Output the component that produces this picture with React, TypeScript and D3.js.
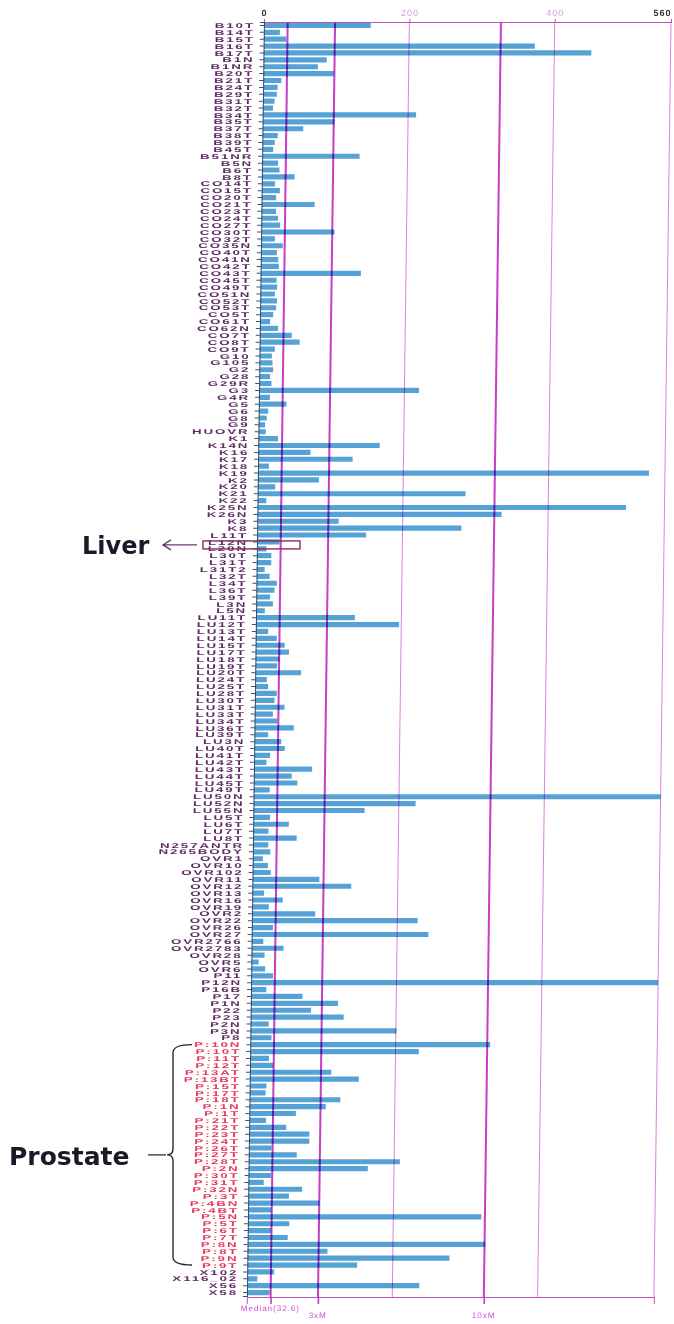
import { useEffect, useRef } from 'react';
import * as d3 from 'd3';

const labels = [
  'B10T', 'B14T', 'B15T', 'B16T', 'B17T', 'B1N', 'B1NR', 'B20T', 'B21T', 'B24T', 'B29T', 'B31T', 'B32T', 'B34T',
  'B35T', 'B37T', 'B38T', 'B39T', 'B45T', 'B51NR', 'B5N', 'B6T', 'B8T', 'CO14T', 'CO15T', 'CO20T', 'CO21T', 'CO23T',
  'CO24T', 'CO27T', 'CO30T', 'CO32T', 'CO35N', 'CO40T', 'CO41N', 'CO42T', 'CO43T', 'CO45T', 'CO49T', 'CO51N', 'CO52T',
  'CO53T', 'CO5T',
  'CO61T', 'CO62N', 'CO7T', 'CO8T', 'CO9T', 'G10', 'G105', 'G2', 'G28', 'G29R', 'G3', 'G4R', 'G5', 'G6', 'G8', 'G9',
  'HUOVR', 'K1', 'K14N', 'K16', 'K17', 'K18', 'K19', 'K2', 'K20', 'K21', 'K22', 'K25N', 'K26N', 'K3', 'K8', 'L11T',
  'L12N', 'L20N', 'L30T',
  'L31T', 'L31T2', 'L32T', 'L34T', 'L36T', 'L39T', 'L3N', 'L5N',
  'LU11T', 'LU12T', 'LU13T', 'LU14T', 'LU15T', 'LU17T', 'LU18T', 'LU19T', 'LU20T', 'LU24T', 'LU25T', 'LU28T', 'LU30T',
  'LU31T', 'LU33T', 'LU34T', 'LU36T', 'LU39T', 'LU3N', 'LU40T', 'LU41T', 'LU42T', 'LU43T', 'LU44T', 'LU45T', 'LU49T',
  'LU50N', 'LU52N', 'LU55N', 'LU5T', 'LU6T', 'LU7T', 'LU8T',
  'N257ANTR', 'N265BODY',
  'OVR1', 'OVR10', 'OVR102', 'OVR11', 'OVR12', 'OVR13', 'OVR16', 'OVR19', 'OVR2', 'OVR22', 'OVR26', 'OVR27',
  'OVR2766', 'OVR2783', 'OVR28', 'OVR5', 'OVR6',
  'P11', 'P12N', 'P16B', 'P17', 'P1N', 'P22', 'P23', 'P2N', 'P3N', 'P8',
  'P:10N', 'P:10T', 'P:11T', 'P:12T', 'P:13AT', 'P:13BT', 'P:15T', 'P:17T', 'P:18T', 'P:1N', 'P:1T', 'P:21T',
  'P:22T', 'P:23T', 'P:24T', 'P:26T', 'P:27T', 'P:28T', 'P:2N', 'P:30T', 'P:31T', 'P:32N', 'P:3T', 'P:4BN',
  'P:4BT', 'P:5N', 'P:5T', 'P:6T', 'P:7T', 'P:8N', 'P:8T', 'P:9N', 'P:9T',
  'X102', 'X116_02', 'X56', 'X58',
];

const values = [
  147, 22, 31, 373, 451, 87, 75, 97, 25, 20, 19, 16, 14, 211,
  99, 56, 21, 17, 15, 134, 22, 24, 45, 18, 25, 20, 73, 20, 23, 26, 101, 19, 30, 22, 24, 25, 138, 22, 23, 20, 23, 22, 18,
  14, 25, 44, 55, 21, 17, 18, 19, 15, 17, 220, 15, 38, 13, 11, 9, 10, 27, 167, 72, 130, 15, 538, 84, 24, 286, 12, 507,
  336, 112, 281, 150, 31, 13, 20,
  20, 11, 18, 28, 25, 19, 23, 12,
  136, 197, 17, 29, 40, 46, 33, 30, 63, 16, 18, 30, 27, 41, 25, 31, 54, 19, 37, 42, 22, 17, 80, 52, 60, 22,
  560, 223, 153, 23, 49, 21, 60,
  21, 24,
  14, 21, 25, 92, 136, 16, 42, 23, 87, 228, 29, 243, 16, 44, 18, 10, 19,
  30, 560, 21, 71, 120, 83, 128, 25, 201, 29,
  330, 232, 26, 32, 112, 150, 23, 22, 125, 105, 64, 23, 51, 83, 83, 31, 66, 208, 164, 31, 21, 74, 56, 98, 32,
  321, 57, 32, 55, 327, 110, 278, 151,
  37, 14, 237, 31,
];

const refLines = [
  { name: 'Median(32.6)', value: 32.6 },
  { name: '3xM', value: 97.8 },
  { name: '10xM', value: 326 },
];
const gridValues = [200, 400, 560];
const topTicks = [0, 200, 400, 560];

function App() {
  const svgRef = useRef<SVGSVGElement | null>(null);
  const width = 674;
  const height = 1324;

  useEffect(() => {
    const svg = d3.select(svgRef.current);
    svg.selectAll('*').remove();

    // the photographed chart leans a little to the right towards the top
    const lean = 0.0134;
    const bottomY = 1297;

    const x = d3.scaleLinear().domain([0, 560]).range([247, 654]);
    const y = d3
      .scaleBand<number>()
      .domain(d3.range(labels.length))
      .range([22, 1296])
      .paddingInner(0.25)
      .paddingOuter(0.12);

    const g = svg
      .append('g')
      .attr('transform', `translate(${lean * 1290},0) skewX(${(-Math.atan(lean) * 180) / Math.PI})`);

    g.append('g')
      .selectAll('rect')
      .data(values)
      .join('rect')
      .attr('x', x(0))
      .attr('y', (_, i) => y(i) as number)
      .attr('width', (d) => x(d) - x(0))
      .attr('height', y.bandwidth())
      .attr('fill', '#56a2d6');

    g.append('g')
      .selectAll('line')
      .data(gridValues)
      .join('line')
      .attr('x1', (d) => x(d))
      .attr('x2', (d) => x(d))
      .attr('y1', 22)
      .attr('y2', bottomY)
      .attr('stroke', '#dd80dd')
      .attr('stroke-width', 1)
      .style('mix-blend-mode', 'multiply');

    g.append('g')
      .selectAll('line')
      .data(refLines)
      .join('line')
      .attr('x1', (d) => x(d.value))
      .attr('x2', (d) => x(d.value))
      .attr('y1', 22)
      .attr('y2', bottomY)
      .attr('stroke', '#c83cc8')
      .attr('stroke-width', 2)
      .style('mix-blend-mode', 'multiply');

    const top = g
      .append('g')
      .attr('transform', 'translate(0,22)')
      .call(d3.axisTop(x).tickValues(topTicks).tickSize(3).tickPadding(3).tickFormat(d3.format('d')));
    top.select('.domain').attr('stroke', '#c050c0');
    top.selectAll('.tick line').attr('stroke', '#c050c0');
    top
      .selectAll<SVGTextElement, number>('.tick text')
      .attr('fill', (d) => (d === 0 || d === 560 ? '#3a2c40' : '#e394e6'))
      .attr('font-size', 9)
      .attr('font-weight', (d) => (d === 0 || d === 560 ? 'bold' : 'normal'))
      .attr('letter-spacing', 1)
      .attr('text-anchor', (d) => (d === 560 ? 'end' : 'middle'))
      .attr('font-family', 'Liberation Sans, Arial, sans-serif');

    const bottom = g
      .append('g')
      .attr('transform', `translate(0,${bottomY})`)
      .call(
        d3
          .axisBottom(x)
          .tickValues(refLines.map((d) => d.value))
          .tickSize(7)
          .tickFormat(() => '')
      );
    bottom.select('.domain').attr('stroke', '#c050c0');
    bottom.selectAll('.tick line').attr('stroke', '#b03cb0').attr('stroke-width', 1.5);

    g.append('g')
      .selectAll('text')
      .data(refLines)
      .join('text')
      .attr('x', (d) => x(d.value))
      .attr('y', (_, i) => (i === 0 ? 1311 : 1318))
      .attr('text-anchor', 'middle')
      .attr('font-size', 8)
      .attr('letter-spacing', 1)
      .attr('font-family', 'Liberation Sans, Arial, sans-serif')
      .attr('fill', '#d048d0')
      .text((d) => d.name);

    const left = g
      .append('g')
      .attr('transform', `translate(${x(0)},0)`)
      .call(d3.axisLeft(y).tickSize(4).tickFormat(() => ''));
    left.select('.domain').attr('stroke', '#2c4f6e');
    left.selectAll('.tick line').attr('stroke', '#4a4a6a');

    g.append('g')
      .selectAll('text')
      .data(labels)
      .join('text')
      .attr('transform', (_, i) => `translate(${x(0) - 9},${(y(i) as number) + y.bandwidth() / 2}) scale(1.9,1)`)
      .attr('text-anchor', 'end')
      .attr('dominant-baseline', 'central')
      .attr('font-size', 7)
      .attr('font-weight', 'bold')
      .attr('letter-spacing', 1)
      .attr('font-family', 'Liberation Sans, Arial, sans-serif')
      .attr('fill', (d) => (d.startsWith('P:') ? '#e8375f' : '#5e2c62'))
      .text((d) => d);

    // annotations
    const liverIndex = labels.indexOf('L12N');
    const liverY = (y(liverIndex) as number) + y.bandwidth() / 2 + 3;
    svg
      .append('rect')
      .attr('x', 203)
      .attr('y', liverY - 4)
      .attr('width', 97)
      .attr('height', 8)
      .attr('fill', 'none')
      .attr('stroke', '#8a2a60')
      .attr('stroke-width', 1.4);
    svg
      .append('path')
      .attr('d', `M197,${liverY} L163,${liverY} M171,${liverY - 5} L163,${liverY} L171,${liverY + 5}`)
      .attr('fill', 'none')
      .attr('stroke', '#6a3a72')
      .attr('stroke-width', 1.4);
    svg
      .append('text')
      .attr('x', 82)
      .attr('y', liverY + 9)
      .attr('font-family', 'DejaVu Sans, sans-serif')
      .attr('font-weight', 'bold')
      .attr('font-size', 24)
      .attr('fill', '#1c1828')
      .text('Liver');

    const pIdx = labels.map((d, i) => (d.startsWith('P:') ? i : -1)).filter((i) => i >= 0);
    const bTop = (y(pIdx[0]) as number) + y.bandwidth() / 2;
    const bBot = (y(pIdx[pIdx.length - 1]) as number) + y.bandwidth() / 2;
    const bMid = (bTop + bBot) / 2;
    svg
      .append('path')
      .attr(
        'd',
        `M192,${bTop} Q173,${bTop} 173,${bTop + 8} L173,${bMid - 6} Q173,${bMid} 167,${bMid} Q173,${bMid} 173,${bMid + 6} L173,${bBot - 8} Q173,${bBot} 192,${bBot} M148,${bMid} L166,${bMid}`
      )
      .attr('fill', 'none')
      .attr('stroke', '#2e2434')
      .attr('stroke-width', 1.4);
    svg
      .append('text')
      .attr('x', 9)
      .attr('y', bMid + 10)
      .attr('font-family', 'DejaVu Sans, sans-serif')
      .attr('font-weight', 'bold')
      .attr('font-size', 25)
      .attr('fill', '#1c1828')
      .text('Prostate');
  }, []);

  return (
    <svg
      ref={svgRef}
      width={width}
      height={height}
      style={{ position: 'absolute', left: 0, top: 0, background: '#fff' }}
    />
  );
}

export default App;
